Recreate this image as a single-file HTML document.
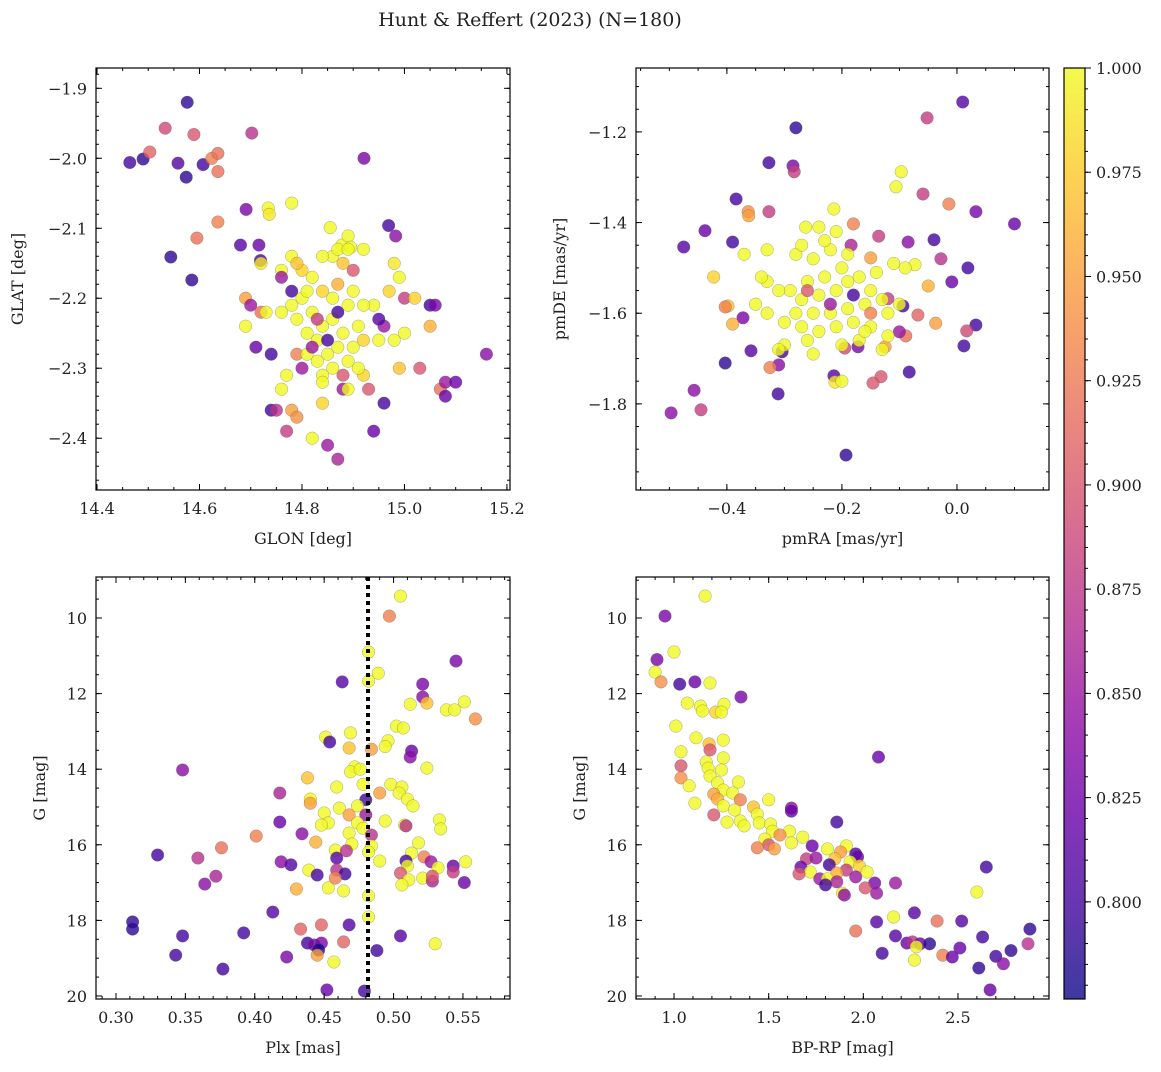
<!DOCTYPE html>
<html><head><meta charset="utf-8"><style>
body{margin:0;background:#fff;}
svg text{font-family:"DejaVu Serif","Liberation Serif",serif;fill:#222;}
</style></head><body>
<svg id="fig" width="1161" height="1067" viewBox="0 0 1161 1067" xmlns="http://www.w3.org/2000/svg">
<defs><linearGradient id="cmap" x1="0" y1="1" x2="0" y2="0">
<stop offset="0" stop-color="#0d0887"/><stop offset="0.1" stop-color="#41049d"/><stop offset="0.2" stop-color="#6a00a8"/><stop offset="0.3" stop-color="#8f0da4"/><stop offset="0.4" stop-color="#b12a90"/><stop offset="0.5" stop-color="#cc4778"/><stop offset="0.6" stop-color="#e16462"/><stop offset="0.7" stop-color="#f2844b"/><stop offset="0.8" stop-color="#fca636"/><stop offset="0.9" stop-color="#fcce25"/><stop offset="1" stop-color="#f0f921"/></linearGradient></defs>
<text x="530" y="26" font-size="19" text-anchor="middle">Hunt &amp; Reffert (2023) (N=180)</text>
</svg>
<script>
// Panel 1: GLON / GLAT / probability
const p1Glon=[14.576,14.464,14.490,14.574,14.558,14.607,14.544,14.585,14.533,14.503,14.589,14.624,14.636,14.636,14.702,14.636,14.595,14.921,14.691,14.680,14.716,14.719,14.969,14.983,14.734,14.736,14.780,14.855,14.878,14.890,14.895,14.86,14.78,14.72,14.76,14.82,14.88,14.90,14.76,14.78,14.69,14.70,14.69,14.72,14.71,14.74,14.79,14.77,14.76,14.78,14.74,14.75,14.77,14.79,14.82,14.85,14.87,14.84,14.88,14.89,14.92,14.93,14.94,14.96,14.99,14.98,14.96,14.95,14.94,14.97,14.99,15.00,15.02,15.00,15.03,15.05,15.06,15.05,15.07,15.08,15.08,15.10,15.16,14.98,14.80,14.82,14.84,14.83,14.81,14.79,14.86,14.88,14.87,14.85,14.83,14.81,14.89,14.90,14.91,14.92,14.89,14.86,14.84,14.87,14.90,14.92,14.86,14.84,14.88,14.80,14.82,14.85,14.87,14.91,14.95,14.84,14.83,14.80,14.84,14.87,14.89,14.92,14.79,14.73,14.76,14.78,14.81];
const p1Glat=[-1.920,-2.006,-2.001,-2.027,-2.007,-2.009,-2.141,-2.174,-1.957,-1.991,-1.966,-2.000,-1.993,-2.019,-1.964,-2.091,-2.114,-2.000,-2.073,-2.124,-2.124,-2.146,-2.096,-2.111,-2.071,-2.080,-2.064,-2.099,-2.124,-2.111,-2.127,-2.14,-2.14,-2.15,-2.16,-2.17,-2.15,-2.16,-2.17,-2.19,-2.20,-2.21,-2.24,-2.22,-2.27,-2.28,-2.28,-2.31,-2.33,-2.36,-2.36,-2.36,-2.39,-2.37,-2.40,-2.41,-2.43,-2.35,-2.33,-2.33,-2.31,-2.33,-2.39,-2.35,-2.30,-2.26,-2.24,-2.23,-2.21,-2.19,-2.17,-2.20,-2.20,-2.25,-2.30,-2.21,-2.21,-2.24,-2.33,-2.32,-2.34,-2.32,-2.28,-2.15,-2.20,-2.22,-2.24,-2.26,-2.25,-2.23,-2.23,-2.25,-2.27,-2.28,-2.29,-2.28,-2.29,-2.27,-2.24,-2.21,-2.21,-2.20,-2.19,-2.18,-2.19,-2.26,-2.30,-2.31,-2.31,-2.30,-2.27,-2.26,-2.22,-2.30,-2.26,-2.32,-2.23,-2.16,-2.14,-2.13,-2.13,-2.13,-2.15,-2.22,-2.22,-2.21,-2.19];
const p1Prob=[0.79,0.80,0.79,0.79,0.81,0.80,0.79,0.79,0.89,0.91,0.90,0.93,0.92,0.92,0.87,0.93,0.92,0.83,0.83,0.81,0.82,0.80,0.80,0.84,1,0.99,1,1,1,1,1,1,1,0.99,1,1,0.97,0.9,0.85,0.8,0.95,0.85,1,0.92,0.82,0.80,0.93,1,1,0.95,0.80,0.87,0.88,0.94,1,0.85,0.86,0.98,0.85,1,0.98,0.9,0.82,0.80,0.97,1,0.85,0.81,1,0.98,1,0.88,0.98,1,0.9,0.80,0.83,0.96,0.92,0.85,0.82,0.82,0.84,0.99,1,1,1,1,1,1,1,1,1,1,1,1,1,1,1,1,1,1,0.98,0.96,1,0.98,1,1,0.9,0.85,0.85,0.8,0.8,1,1,1,0.88,0.98,1,1,1,1,0.97,1,1,1,1];
// Panel 2: pmRA / pmDE / probability
const p2PmRA=[0.010,-0.052,-0.28,-0.327,-0.285,-0.283,-0.097,-0.106,-0.059,-0.384,-0.014,0.033,-0.214,-0.363,-0.362,-0.327,-0.438,-0.263,-0.18,0.10,-0.475,-0.39,-0.085,-0.04,-0.136,-0.184,-0.15,-0.028,-0.073,0.019,-0.423,-0.009,-0.05,-0.12,-0.398,-0.403,-0.372,-0.39,-0.037,-0.068,-0.094,0.033,0.017,-0.089,-0.10,-0.358,-0.304,0.012,-0.172,-0.125,-0.403,-0.31,-0.325,-0.195,-0.214,-0.212,-0.132,-0.146,-0.083,-0.311,-0.457,-0.445,-0.497,-0.193,-0.28,-0.25,-0.22,-0.2,-0.23,-0.26,-0.29,-0.31,-0.33,-0.27,-0.24,-0.21,-0.19,-0.17,-0.15,-0.13,-0.16,-0.19,-0.22,-0.25,-0.28,-0.3,-0.27,-0.24,-0.21,-0.18,-0.15,-0.12,-0.1,-0.14,-0.11,-0.09,-0.35,-0.33,-0.3,-0.26,-0.2,-0.17,-0.13,-0.23,-0.21,-0.24,-0.27,-0.19,-0.25,-0.33,-0.37,-0.34,-0.31,-0.2,-0.16,-0.12,-0.22,-0.18,-0.26,-0.15];
const p2PmDE=[-1.134,-1.169,-1.191,-1.268,-1.275,-1.288,-1.288,-1.321,-1.337,-1.348,-1.359,-1.376,-1.370,-1.376,-1.385,-1.376,-1.418,-1.41,-1.403,-1.403,-1.454,-1.443,-1.443,-1.438,-1.43,-1.45,-1.478,-1.48,-1.493,-1.5,-1.52,-1.531,-1.54,-1.568,-1.584,-1.586,-1.61,-1.624,-1.622,-1.604,-1.584,-1.626,-1.639,-1.65,-1.641,-1.683,-1.685,-1.672,-1.674,-1.674,-1.71,-1.714,-1.72,-1.677,-1.738,-1.752,-1.74,-1.754,-1.73,-1.778,-1.77,-1.813,-1.82,-1.913,-1.47,-1.48,-1.46,-1.5,-1.52,-1.53,-1.55,-1.55,-1.53,-1.57,-1.56,-1.55,-1.53,-1.52,-1.55,-1.57,-1.58,-1.59,-1.6,-1.6,-1.6,-1.62,-1.63,-1.64,-1.63,-1.62,-1.63,-1.6,-1.58,-1.51,-1.49,-1.5,-1.58,-1.6,-1.67,-1.66,-1.67,-1.66,-1.68,-1.44,-1.42,-1.41,-1.45,-1.47,-1.69,-1.46,-1.47,-1.52,-1.68,-1.75,-1.64,-1.65,-1.58,-1.56,-1.55,-1.6];
const p2Prob=[0.81,0.88,0.79,0.80,0.83,0.88,1,1,0.88,0.80,0.93,0.83,1,0.94,0.95,0.88,0.82,1,0.93,0.82,0.81,0.80,0.84,0.80,0.88,0.86,0.95,0.87,1,0.80,0.98,0.82,0.96,0.88,0.97,0.93,0.83,0.96,0.95,0.91,0.8,0.80,0.89,0.92,0.85,0.81,0.80,0.80,0.83,0.95,0.79,0.84,0.93,0.89,0.81,0.99,0.90,0.90,0.80,0.8,0.84,0.88,0.84,0.79,1,1,1,1,1,1,1,1,1,1,1,1,1,1,1,1,1,1,1,1,1,1,1,1,1,1,1,1,1,1,1,1,1,1,1,1,1,1,1,1,1,1,1,1,1,1,1,1,1,1,1,1,0.85,0.8,0.9,0.93];
// Panel 3: parallax / G / probability
const p3Plx=[0.505,0.497,0.482,0.489,0.545,0.482,0.463,0.521,0.521,0.512,0.524,0.551,0.538,0.544,0.559,0.502,0.507,0.469,0.451,0.454,0.496,0.494,0.468,0.484,0.513,0.512,0.524,0.472,0.469,0.476,0.438,0.348,0.478,0.459,0.498,0.506,0.504,0.418,0.440,0.440,0.49,0.51,0.514,0.48,0.474,0.461,0.450,0.468,0.480,0.453,0.448,0.474,0.478,0.494,0.508,0.418,0.509,0.533,0.534,0.434,0.468,0.484,0.401,0.518,0.444,0.470,0.484,0.458,0.482,0.513,0.522,0.376,0.466,0.509,0.527,0.552,0.543,0.459,0.49,0.359,0.330,0.419,0.426,0.439,0.459,0.51,0.505,0.532,0.543,0.445,0.372,0.465,0.521,0.511,0.528,0.551,0.506,0.364,0.528,0.43,0.453,0.464,0.458,0.482,0.413,0.482,0.312,0.312,0.448,0.468,0.433,0.348,0.392,0.505,0.438,0.443,0.448,0.464,0.53,0.446,0.488,0.423,0.445,0.343,0.457,0.377,0.452,0.479];
const p3G=[9.42,9.95,10.9,11.46,11.14,11.67,11.69,11.75,12.09,12.28,12.25,12.22,12.43,12.43,12.67,12.86,12.91,13.04,13.15,13.28,13.25,13.4,13.44,13.47,13.52,13.68,13.97,13.94,14.07,14.0,14.23,14.02,14.4,14.47,14.4,14.47,14.63,14.63,14.79,14.9,14.63,14.79,14.97,14.81,14.97,15.03,15.16,15.21,15.21,15.42,15.48,15.42,15.56,15.37,15.48,15.4,15.5,15.34,15.58,15.71,15.69,15.74,15.77,15.95,15.93,15.98,16.03,16.14,16.19,16.22,16.32,16.08,16.16,16.43,16.45,16.45,16.56,16.35,16.43,16.35,16.27,16.45,16.53,16.67,16.67,16.56,16.75,16.61,16.72,16.8,16.83,16.77,16.88,16.93,16.96,17.0,17.06,17.04,16.83,17.17,17.14,17.22,16.88,17.35,17.78,17.91,18.04,18.23,18.12,18.12,18.23,18.41,18.33,18.41,18.6,18.65,18.6,18.57,18.62,18.78,18.8,18.97,18.92,18.92,19.1,19.29,19.84,19.87];
const p3Prob=[1,0.93,1,1,0.83,1,0.81,0.83,0.84,1,0.97,1,1,1,0.94,1,1,1,1,0.80,1,1,0.97,0.95,0.82,0.84,1,1,1,1,0.97,0.84,1,1,1,1,1,0.86,1,0.95,0.95,1,1,0.80,1,1,1,0.95,0.85,1,1,1,1,1,1,0.82,0.87,1,1,0.84,1,0.87,0.93,1,0.96,1,1,1,1,1,0.93,0.92,0.87,0.80,0.85,1,0.82,0.81,1,0.87,0.80,0.84,0.81,1,0.87,1,0.9,1,0.88,0.80,0.86,0.80,1,1,0.86,0.82,1,0.84,0.9,0.96,1,1,0.93,1,0.81,1,0.79,0.79,0.91,0.81,0.91,0.80,0.80,0.81,0.80,0.83,0.83,0.91,1,0.78,0.80,0.83,0.95,0.80,1,0.80,0.82,0.80];
// Panel 4: BP-RP / G / probability
const p4BpRp=[1.164,0.952,0.910,1.0,0.9,0.931,1.03,1.11,1.19,1.354,1.07,1.14,1.15,1.22,1.264,1.25,1.01,1.116,1.26,1.185,1.19,1.037,1.26,1.17,1.18,1.037,1.25,2.08,1.037,1.19,1.08,1.23,1.34,1.26,1.31,1.21,1.11,1.23,1.35,1.50,1.26,1.32,1.42,1.44,1.35,1.21,1.28,1.37,1.45,1.51,1.62,1.62,1.86,1.52,1.61,1.68,1.48,1.56,1.50,1.44,1.62,1.53,1.73,1.91,1.96,1.97,1.81,1.88,1.70,1.75,1.85,1.93,1.98,1.82,1.67,1.72,1.91,2.02,1.66,1.86,1.96,1.77,1.81,1.86,2.06,2.17,1.80,2.01,1.89,2.6,1.90,2.07,2.65,2.16,2.27,2.07,2.39,2.52,1.96,2.17,2.23,2.26,2.30,2.42,2.28,2.35,2.63,2.51,2.88,2.87,2.78,2.70,2.47,2.10,2.27,2.74,2.61,2.67];
const p4G=[9.42,9.95,11.1,10.9,11.43,11.69,11.75,11.69,11.72,12.09,12.25,12.33,12.46,12.49,12.28,12.49,12.86,13.17,13.23,13.33,13.49,13.54,13.7,13.81,13.97,13.91,14.02,13.68,14.23,14.18,14.44,14.36,14.34,14.55,14.63,14.66,14.9,14.79,14.81,14.81,14.97,15.08,15.0,15.19,15.37,15.21,15.4,15.5,15.42,15.45,15.03,15.11,15.4,15.64,15.64,15.8,15.85,15.74,16.0,16.08,15.95,16.11,16.03,16.03,16.24,16.32,16.11,16.19,16.37,16.35,16.37,16.45,16.56,16.53,16.59,16.72,16.67,16.72,16.77,16.75,16.85,16.9,16.9,16.98,17.01,17.01,17.06,17.14,17.28,17.25,17.33,17.28,16.59,17.91,17.8,18.04,18.02,18.02,18.28,18.41,18.6,18.57,18.62,18.92,18.7,18.62,18.44,18.73,18.23,18.62,18.8,18.95,18.97,18.87,19.05,19.15,19.26,19.84];
const p4Prob=[1,0.83,0.83,1,1,0.94,0.8,0.82,1,0.83,1,1,1,0.98,1,1,1,1,1,0.97,0.9,1,1,1,1,0.9,1,0.82,0.94,1,1,1,1,1,1,0.95,1,0.96,0.93,1,1,1,0.97,1,1,0.9,1,1,1,1,0.84,0.82,0.80,1,1,1,1,0.94,0.9,0.93,1,0.95,0.82,1,0.80,0.82,1,0.95,0.88,0.85,0.97,1,0.98,0.8,0.82,1,0.88,1,0.9,0.96,0.85,0.85,1,0.86,0.83,0.85,0.80,0.9,1,1,0.84,0.85,0.80,1,0.81,0.81,0.92,0.81,0.92,0.81,0.82,0.87,0.82,0.93,1,0.79,0.8,0.82,0.79,0.87,0.79,0.80,0.82,0.8,1,0.84,0.79,0.82];
const cbTicks=[0.800,0.825,0.850,0.875,0.900,0.925,0.950,0.975,1.000];

const NS='http://www.w3.org/2000/svg';
const svg=document.getElementById('fig');
const VMIN=0.7767,VMAX=1.0;
const stops=['#0d0887','#41049d','#6a00a8','#8f0da4','#b12a90','#cc4778','#e16462','#f2844b','#fca636','#fcce25','#f0f921'];
function hex(h){return [1,3,5].map(i=>parseInt(h.substr(i,2),16));}
function cmap(p){let t=Math.max(0,Math.min(1,(p-VMIN)/(VMAX-VMIN)))*10;let i=Math.min(9,Math.floor(t)),f=t-i;const a=hex(stops[i]),b=hex(stops[i+1]);return 'rgb('+a.map((v,k)=>Math.round(v+(b[k]-v)*f)).join(',')+')';}
function el(tag,attrs,parent){const e=document.createElementNS(NS,tag);for(const k in attrs)e.setAttribute(k,attrs[k]);(parent||svg).appendChild(e);return e;}
function fmt(v,d){return (v<0?'\u2212':'')+Math.abs(v).toFixed(d);}

function panel(cfg){
  const g=el('g',{});
  
  
  const {x0,x1,y0,y1}=cfg;
  const sx=v=>x0+(v-cfg.xd[0])/(cfg.xd[1]-cfg.xd[0])*(x1-x0);
  const sy=v=>y0+(v-cfg.yd[0])/(cfg.yd[1]-cfg.yd[0])*(y1-y0);
  const pg=el('g',{},g);
  
  
  for(let i=0;i<cfg.xs.length;i++){
    const c=el('circle',{cx:sx(cfg.xs[i]).toFixed(1),cy:sy(cfg.ys[i]).toFixed(1),r:6.3,fill:cmap(cfg.ps[i]),'fill-opacity':0.8,stroke:'#555','stroke-opacity':0.5,'stroke-width':0.5},pg);
    
    
  }
  if(cfg.vline!==undefined){
    const l=el('line',{x1:sx(cfg.vline),x2:sx(cfg.vline),y1:y0,y2:y1,stroke:'#000','stroke-width':4,'stroke-dasharray':'4,4'},g);
    
    
  }
  const fr=el('rect',{x:x0,y:y0,width:x1-x0,height:y1-y0,fill:'none',stroke:'#000','stroke-width':1.2},g);
  
  
  const lo=Math.min(cfg.xd[0],cfg.xd[1]),hi=Math.max(cfg.xd[0],cfg.xd[1]);
  for(let k=Math.ceil(lo/cfg.xmin-1e-6);k*cfg.xmin<=hi+1e-9;k++){const v=k*cfg.xmin,X=sx(v);
    el('line',{x1:X,x2:X,y1:y1,y2:y1-3,stroke:'#000'},g);el('line',{x1:X,x2:X,y1:y0,y2:y0+3,stroke:'#000'},g);}
  cfg.xt.forEach(v=>{const X=sx(v);el('line',{x1:X,x2:X,y1:y1,y2:y1-6,stroke:'#000'},g);el('line',{x1:X,x2:X,y1:y0,y2:y0+6,stroke:'#000'},g);
    const t=el('text',{x:X,y:y1+24,'font-size':16,'text-anchor':'middle'},g);t.textContent=fmt(v,cfg.xdp);
    });
  const ylo=Math.min(cfg.yd[0],cfg.yd[1]),yhi=Math.max(cfg.yd[0],cfg.yd[1]);
  for(let k=Math.ceil(ylo/cfg.ymin-1e-6);k*cfg.ymin<=yhi+1e-9;k++){const v=k*cfg.ymin,Y=sy(v);
    el('line',{x1:x0,x2:x0+3,y1:Y,y2:Y,stroke:'#000'},g);el('line',{x1:x1,x2:x1-3,y1:Y,y2:Y,stroke:'#000'},g);}
  cfg.yt.forEach(v=>{const Y=sy(v);el('line',{x1:x0,x2:x0+6,y1:Y,y2:Y,stroke:'#000'},g);el('line',{x1:x1,x2:x1-6,y1:Y,y2:Y,stroke:'#000'},g);
    const t=el('text',{x:x0-9,y:Y+6,'font-size':16,'text-anchor':'end'},g);t.textContent=fmt(v,cfg.ydp);
    });
  const xl=el('text',{x:(x0+x1)/2,y:y1+54,'font-size':16,'text-anchor':'middle'},g);xl.textContent=cfg.xlabel;
  
  const yx=cfg.ylx,yy=(y0+y1)/2;
  const yl=el('text',{x:yx,y:yy,'font-size':16,'text-anchor':'middle',transform:`rotate(-90 ${yx} ${yy})`},g);yl.textContent=cfg.ylabel;
  
}
panel({name:'glon-glat-panel',x0:96,x1:510,y0:68,y1:490,xd:[14.398,15.206],yd:[-1.871,-2.474],xs:p1Glon,ys:p1Glat,ps:p1Prob,xt:[14.4,14.6,14.8,15.0,15.2],xdp:1,xmin:0.05,yt:[-1.9,-2.0,-2.1,-2.2,-2.3,-2.4],ydp:1,ymin:0.02,xlabel:'GLON [deg]',ylabel:'GLAT [deg]',ylx:23});
panel({name:'proper-motion-panel',x0:636,x1:1049,y0:68,y1:490,xd:[-0.558,0.160],yd:[-1.059,-1.990],xs:p2PmRA,ys:p2PmDE,ps:p2Prob,xt:[-0.4,-0.2,0.0],xdp:1,xmin:0.05,yt:[-1.2,-1.4,-1.6,-1.8],ydp:1,ymin:0.05,xlabel:'pmRA [mas/yr]',ylabel:'pmDE [mas/yr]',ylx:565});
panel({name:'parallax-mag-panel',x0:96,x1:510,y0:577,y1:999,xd:[0.2856,0.5839],yd:[8.915,20.08],xs:p3Plx,ys:p3G,ps:p3Prob,vline:0.4816,xt:[0.30,0.35,0.40,0.45,0.50,0.55],xdp:2,xmin:0.01,yt:[10,12,14,16,18,20],ydp:0,ymin:0.5,xlabel:'Plx [mas]',ylabel:'G [mag]',ylx:45});
panel({name:'color-mag-panel',x0:636,x1:1049,y0:577,y1:999,xd:[0.799,2.981],yd:[8.915,20.08],xs:p4BpRp,ys:p4G,ps:p4Prob,xt:[1.0,1.5,2.0,2.5],xdp:1,xmin:0.1,yt:[10,12,14,16,18,20],ydp:0,ymin:0.5,xlabel:'BP-RP [mag]',ylabel:'G [mag]',ylx:585});

const cb=el('g',{});


const cy=v=>999-(v-VMIN)/(VMAX-VMIN)*(999-68);
el('rect',{x:1064,y:68,width:21,height:931,fill:'url(#cmap)','fill-opacity':0.8},cb);
el('rect',{x:1064,y:68,width:21,height:931,fill:'none',stroke:'#000','stroke-width':1.2},cb);
for(let v=0.780;v<=1.0001;v+=0.005){const Y=cy(v);el('line',{x1:1085,x2:1088,y1:Y,y2:Y,stroke:'#000'},cb);}
cbTicks.forEach(v=>{const Y=cy(v);el('line',{x1:1085,x2:1091,y1:Y,y2:Y,stroke:'#000'},cb);
  const t=el('text',{x:1096,y:Y+6,'font-size':16},cb);t.textContent=v.toFixed(3);
  });
</script>
</body></html>
